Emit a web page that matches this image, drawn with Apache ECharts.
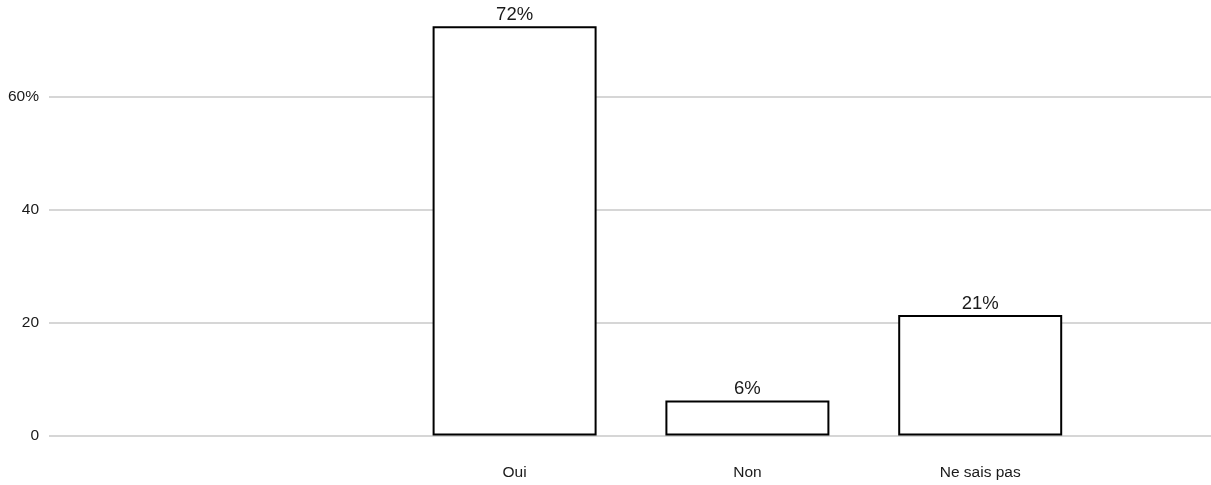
<!DOCTYPE html>
<html>
<head>
<meta charset="utf-8">
<script src="https://cdn.jsdelivr.net/npm/echarts@6/dist/echarts.min.js"></script>
<style>html,body{margin:0;padding:0;background:#fff}#c{width:1211px;height:485px}</style>
</head>
<body>
<div id="c"></div>
<script>
// Category slots (empty slots keep the same spacing as the reference)
const categories = ['', ' ', 'Oui', 'Non', 'Ne sais pas', '  '];
const values = [null, null, 72.4, 6.2, 21.3, null];
const yTickValues = [0, 20, 40, 60];
const yTickLabels = ['0', '20', '40', '60%'];

const FONT = 'Liberation Sans, Arial, Helvetica, sans-serif';
const chart = echarts.init(document.getElementById('c'), null, {renderer: 'canvas'});
chart.setOption({
  animation: false,
  backgroundColor: '#fff',
  textStyle: {fontFamily: FONT},
  grid: {left: 49, width: 1164, top: 3, height: 432.5, containLabel: false, outerBoundsMode: 'none'},
  xAxis: {
    type: 'category',
    data: categories,
    boundaryGap: false,
    axisLine: {show: false},
    axisTick: {show: false},
    splitLine: {show: false},
    axisLabel: {
      interval: 0,
      margin: 29,
      fontSize: 15.5,
      color: '#1a1a1a',
      fontFamily: FONT
    }
  },
  yAxis: {
    type: 'value',
    min: 0,
    max: 76.5,
    interval: 20,
    axisLine: {show: false},
    axisTick: {show: false},
    splitLine: {show: true, showMaxLine: false, lineStyle: {color: '#c8c8c8', width: 1.5}},
    axisLabel: {
      margin: 10,
      fontSize: 15.5,
      color: '#1a1a1a',
      fontFamily: FONT,
      formatter: function (v) {
        const i = yTickValues.indexOf(v);
        return i >= 0 ? yTickLabels[i] : '';
      }
    }
  },
  series: [{
    type: 'bar',
    data: values,
    barWidth: 164,
    itemStyle: {color: '#fff', borderColor: '#000', borderWidth: 2},
    label: {
      show: true,
      position: 'top',
      distance: 2,
      fontSize: 18.5,
      color: '#1a1a1a',
      fontFamily: FONT,
      formatter: function (p) { return Math.round(p.value) + '%'; }
    }
  }]
});
</script>
</body>
</html>
